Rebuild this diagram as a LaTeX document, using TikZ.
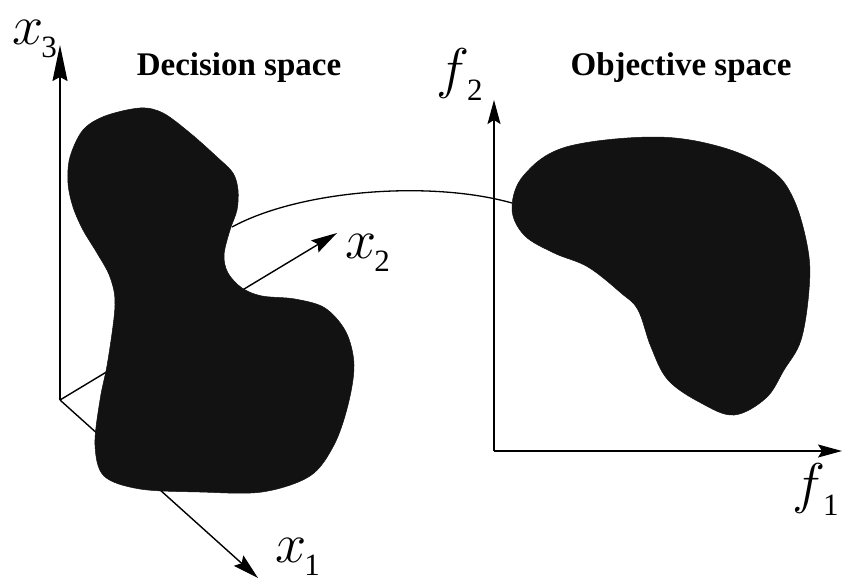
\RequirePackage{fix-cm}
\documentclass[tikz,border=0pt]{standalone}
\usepackage{fontspec}
\setmainfont{Liberation Serif}
\usetikzlibrary{arrows.meta}
\tikzset{
  axis/.style={line width=1.4pt, -{Stealth[length=26pt,width=14pt,inset=4pt]}},
  region/.style={fill=black!93, draw=black!93, line width=0.5pt},
  title/.style={font=\fontsize{33}{33}\selectfont\bfseries, anchor=base, inner sep=0pt},
  mlabel/.style={anchor=base west, inner sep=0pt},
  link/.style={line width=1.3pt}
}
\newcommand{\mylab}[2]{{\fontsize{56}{56}\selectfont$#1$}\kern-2pt\raisebox{-13pt}{\fontsize{31}{31}\selectfont #2}}
\begin{document}
\begin{tikzpicture}[x=1pt,y=-1pt]
\useasboundingbox (0,0) rectangle (842,581);
\fill[white] (0,0) rectangle (842,581);
% left axes
\coordinate (o) at (60,400);
\coordinate (x3t) at (60,45);
\coordinate (x2t) at (337,233);
\coordinate (x1t) at (258,578);
\draw[axis, -{Stealth[length=36pt,width=15pt,inset=4pt]}] (o) -- (x3t);
\draw[axis] (o) -- (x2t);
\draw[axis] (o) -- (x1t);
% right axes
\coordinate (p) at (494,451);
\coordinate (f2t) at (494,100);
\coordinate (f1t) at (842,451);
\draw[axis, -{Stealth[length=24pt,width=13pt,inset=4pt]}] (p) -- (f2t);
\draw[axis, -{Stealth[length=24pt,width=13pt,inset=4pt]}] (p) -- (f1t);
% decision region
\draw[region] plot[smooth cycle, tension=0.55] coordinates {
 (140,108) (163,113) (190,133) (217,157) (233,173) (238,190) (237,210)
 (230,230) (224,255) (228,273) (242,288) (262,296) (295,299) (325,308)
 (346,332) (354,365) (348,405) (334,445) (310,476) (262,492) (200,492)
 (140,489) (104,476) (95,445) (100,400) (108,360) (115,305) (110,277)
 (97,253) (83,230) (73,207) (68,183) (70,157) (83,130) (105,116)};
% objective region
\draw[region] plot[smooth cycle, tension=0.6] coordinates {
 (654,137) (721,147) (771,170) (794,200) (808,250) (809,290) (801,340)
 (784,370) (766,398) (734,415) (701,403) (668,380) (651,347) (638,310)
 (621,293) (588,267) (554,253) (524,235) (512,208) (524,175) (566,147)};
% mapping
\coordinate (ls) at (232,227);
\coordinate (rs) at (512,203);
\draw[link] (ls) .. controls (300,190) and (430,180) .. (rs);
% titles
\node[title] (dtitle) at (239,75) {Decision space};
\node[title] (otitle) at (681,75) {Objective space};
% axis labels
\node[mlabel] (lx3) at (12,44) {\mylab{x}{3}};
\node[mlabel] (lx2) at (345,258) {\mylab{x}{2}};
\node[mlabel] (lx1) at (275,562) {\mylab{x}{1}};
\node[mlabel] (lf2) at (436,87) {\mylab{f}{2}};
\node[mlabel] (lf1) at (792,502) {\mylab{f}{1}};
\end{tikzpicture}
\end{document}
